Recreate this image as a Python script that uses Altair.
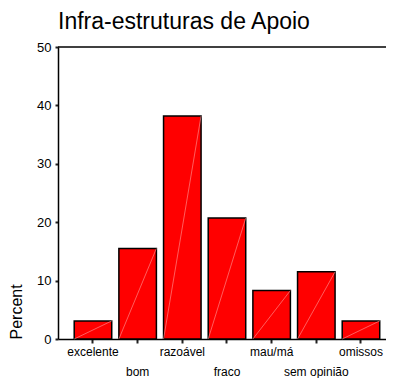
import altair as alt
import pandas as pd

categories = ["excelente", "bom", "razoável", "fraco", "mau/má", "sem opinião", "omissos"]
percent = [3.1, 15.5, 38.2, 20.7, 8.3, 11.5, 3.1]
y_ticks = [0, 10, 20, 30, 40, 50]

df = pd.DataFrame({"cat": categories, "pct": percent, "zero": [0] * len(categories)})

xscale = alt.Scale(domain=categories, paddingInner=0.16, paddingOuter=0.33, align=0.55)
yscale = alt.Scale(domain=[0, 50], nice=False)

label_expr = "indexof(['bom','fraco','sem opinião'], datum.value) >= 0 ? ['', datum.value] : datum.value"

base = alt.Chart(df)

bars = base.mark_bar(color="#ff0000", stroke="black", strokeWidth=1.5).encode(
    x=alt.X("cat:N", scale=xscale, sort=categories, title=None,
            axis=alt.Axis(labelAngle=0, labelExpr=label_expr, labelLineHeight=20,
                          tickSize=4, tickWidth=2, tickColor="#222222",
                          domainColor="black", domainWidth=1.5,
                          labelFont="Liberation Sans", labelFontSize=12,
                          labelColor="black", labelPadding=3)),
    y=alt.Y("pct:Q", scale=yscale, title="Percent",
            axis=alt.Axis(values=y_ticks, tickSize=3, tickWidth=2,
                          tickColor="#222222", domainColor="black", domainWidth=1.5,
                          grid=False, labelFont="Liberation Sans", labelFontSize=13,
                          labelColor="black", labelPadding=4,
                          titleFont="Liberation Sans", titleFontSize=16,
                          titleFontWeight="normal", titleColor="black",
                          titleAngle=-90, titleX=-37, titleY=292,
                          titleAlign="left", titleBaseline="alphabetic")),
)

diag = base.mark_rule(color="#ff9c9c", strokeWidth=0.6).encode(
    x=alt.X("cat:N", scale=xscale, sort=categories, bandPosition=0),
    x2=alt.X2("cat:N", bandPosition=1),
    y=alt.Y("zero:Q", scale=yscale),
    y2=alt.Y2("pct:Q"),
)

top = alt.Chart(pd.DataFrame({"v": [50]})).mark_rule(color="black", strokeWidth=1.5).encode(
    y=alt.Y("v:Q", scale=yscale)
)

chart = alt.layer(bars, diag, top).properties(
    width=335, height=292,
    title=alt.Title("Infra-estruturas de Apoio", anchor="start", frame="group",
                    font="Liberation Sans", fontSize=23, fontWeight="normal",
                    color="black", offset=7),
    autosize=alt.AutoSizeParams(type="none"),
    padding={"left": 50, "top": 39, "right": -7, "bottom": 39},
).configure_view(stroke=None)

chart.save("out.html", embed_options={"renderer": "svg", "actions": False})
